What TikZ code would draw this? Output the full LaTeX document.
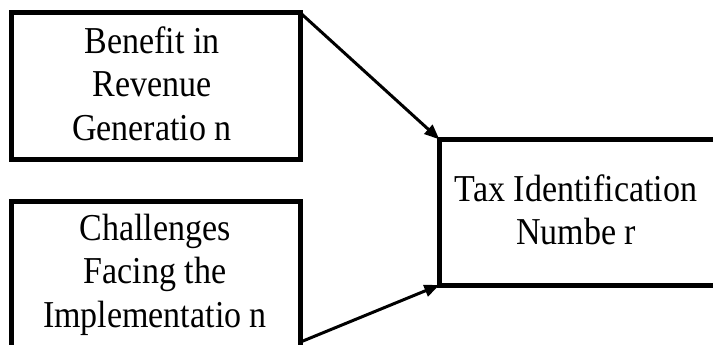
\documentclass[tikz,border=0pt]{standalone}
\usepackage{fontspec}
\setmainfont{Liberation Serif}[FakeStretch=0.895]
\usetikzlibrary{arrows.meta}
\begin{document}
\begin{tikzpicture}[x=1pt,y=-1pt,
  boxnode/.style={draw=black, line width=5pt, inner sep=0pt, outer sep=0pt},
  label text/.style={align=center, inner sep=0pt, font=\fontsize{38}{43.5}\selectfont},
  connector/.style={line width=3pt, -{Triangle[length=15pt,width=12pt]}}]
\useasboundingbox (0,0) rectangle (713,345);
% boxes
\node[boxnode, minimum width=289pt, minimum height=146.5pt] (ben) at (156,86.25) {};
\node[boxnode, minimum width=289pt, minimum height=148pt] (cha) at (156,275) {};
\node[boxnode, minimum width=285.7pt, minimum height=145.7pt] (tax) at (582.2,212.2) {};
% texts
\node[label text] (benT) at (152,83.4) {Benefit in\\Revenue\\Generatio n};
\node[label text] (chaT) at (155,274.6) {Challenges\\Facing the\\Implementatio n};
\node[label text] (taxT) at (576,210) {Tax Identification\\Numbe r};
% connectors
\draw[connector] (ben.north east) -- (tax.north west);
\draw[connector] ([yshift=7pt]cha.south east) -- (tax.south west);
\end{tikzpicture}
\end{document}
